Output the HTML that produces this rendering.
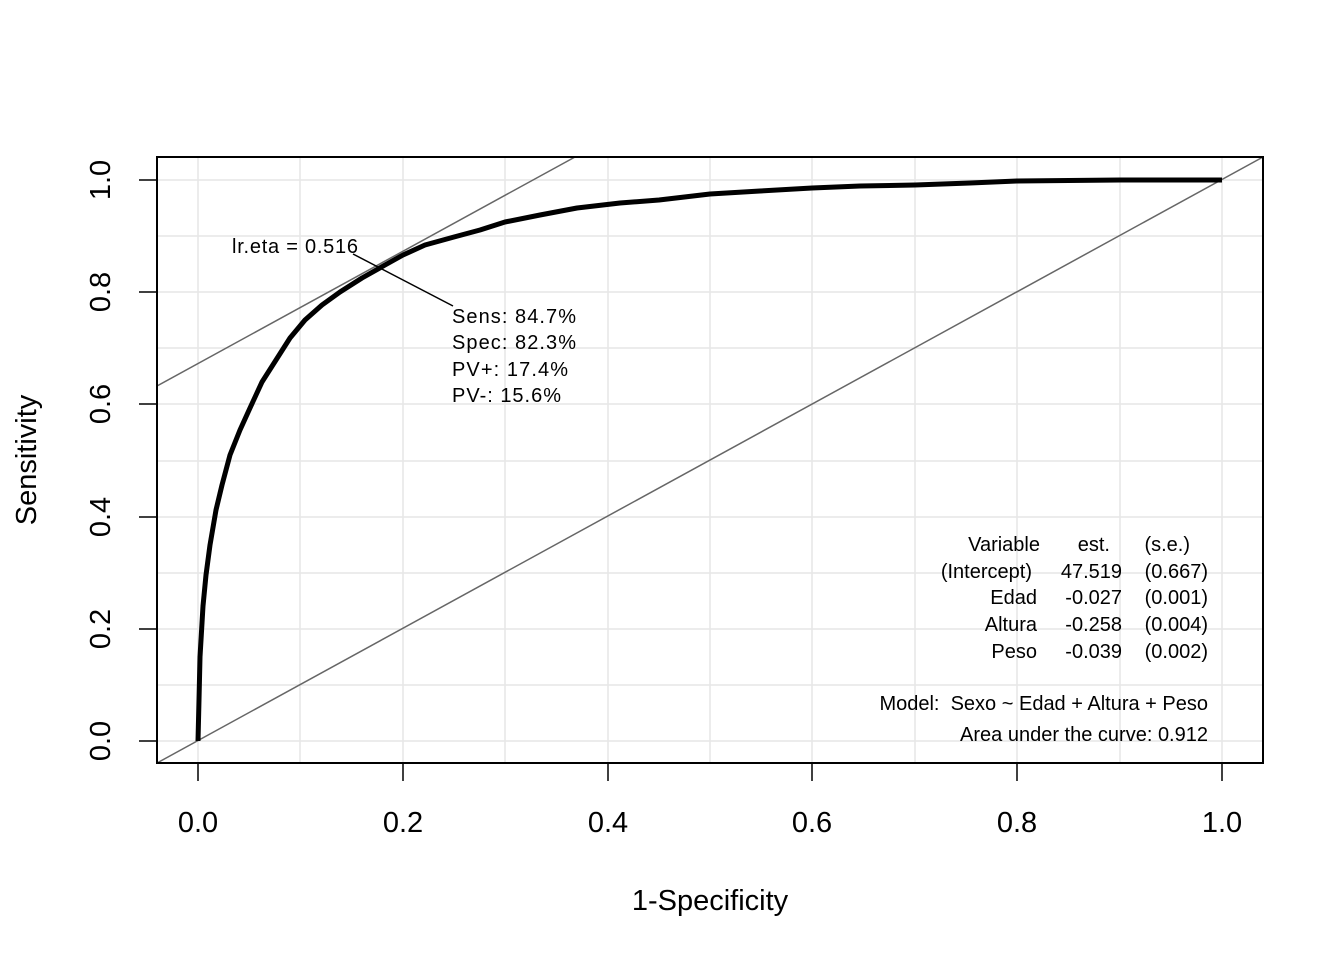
<!DOCTYPE html>
<html><head><meta charset="utf-8"><style>body{margin:0;background:#fff}svg{display:block}</style></head><body>
<svg width="1344" height="960" xmlns="http://www.w3.org/2000/svg" font-family="Liberation Sans, sans-serif">
<g stroke="#e6e6e6" stroke-width="1.5">
<line x1="198" y1="157" x2="198" y2="763"/><line x1="300" y1="157" x2="300" y2="763"/><line x1="403" y1="157" x2="403" y2="763"/><line x1="505" y1="157" x2="505" y2="763"/><line x1="608" y1="157" x2="608" y2="763"/><line x1="710" y1="157" x2="710" y2="763"/><line x1="812" y1="157" x2="812" y2="763"/><line x1="915" y1="157" x2="915" y2="763"/><line x1="1017" y1="157" x2="1017" y2="763"/><line x1="1120" y1="157" x2="1120" y2="763"/><line x1="1222" y1="157" x2="1222" y2="763"/>
<line x1="157" y1="741" x2="1263" y2="741"/><line x1="157" y1="685" x2="1263" y2="685"/><line x1="157" y1="629" x2="1263" y2="629"/><line x1="157" y1="573" x2="1263" y2="573"/><line x1="157" y1="517" x2="1263" y2="517"/><line x1="157" y1="461" x2="1263" y2="461"/><line x1="157" y1="404" x2="1263" y2="404"/><line x1="157" y1="348" x2="1263" y2="348"/><line x1="157" y1="292" x2="1263" y2="292"/><line x1="157" y1="236" x2="1263" y2="236"/><line x1="157" y1="180" x2="1263" y2="180"/>
</g>
<g stroke="#666" stroke-width="1.5">
<line x1="157" y1="763" x2="1263" y2="157"/>
<line x1="157" y1="386" x2="575" y2="157"/>
</g>
<polyline fill="none" stroke="#000" stroke-width="5" stroke-linejoin="round" points="198,741 199,700 200,657 203,606 206,575 210,545 216,510 222,485 230,455 240,430 250,408 262,382 276,360 290,338 305,320 322,305 340,292 362,278 385,265 403,255 425,245 454,237 480,230 505,222 540,215 577,208 620,203 659,200 710,194 760,191 812,188 860,186 915,185 970,183 1017,181 1120,180 1222,180"/>
<line x1="353" y1="254" x2="453" y2="306" stroke="#000" stroke-width="1.5"/>
<rect x="157" y="157" width="1106" height="606" fill="none" stroke="#000" stroke-width="2"/>
<g stroke="#000" stroke-width="1.5">
<line x1="198" y1="763" x2="198" y2="781"/><line x1="403" y1="763" x2="403" y2="781"/><line x1="608" y1="763" x2="608" y2="781"/><line x1="812" y1="763" x2="812" y2="781"/><line x1="1017" y1="763" x2="1017" y2="781"/><line x1="1222" y1="763" x2="1222" y2="781"/>
<line x1="139" y1="741" x2="157" y2="741"/><line x1="139" y1="629" x2="157" y2="629"/><line x1="139" y1="517" x2="157" y2="517"/><line x1="139" y1="404" x2="157" y2="404"/><line x1="139" y1="292" x2="157" y2="292"/><line x1="139" y1="180" x2="157" y2="180"/>
</g>
<g font-size="29" text-anchor="middle">
<text x="198" y="832">0.0</text><text x="403" y="832">0.2</text><text x="608" y="832">0.4</text><text x="812" y="832">0.6</text><text x="1017" y="832">0.8</text><text x="1222" y="832">1.0</text>
<text x="710" y="910">1-Specificity</text>
<text transform="translate(110,741) rotate(-90)">0.0</text><text transform="translate(110,629) rotate(-90)">0.2</text><text transform="translate(110,517) rotate(-90)">0.4</text><text transform="translate(110,404) rotate(-90)">0.6</text><text transform="translate(110,292) rotate(-90)">0.8</text><text transform="translate(110,180) rotate(-90)">1.0</text>
<text transform="translate(36,460) rotate(-90)">Sensitivity</text>
</g>
<g font-size="20">
<text x="232" y="253" textLength="126">lr.eta = 0.516</text>
<text x="452" y="323" textLength="124">Sens: 84.7%</text><text x="452" y="349" textLength="124">Spec: 82.3%</text><text x="452" y="376" textLength="116">PV+: 17.4%</text><text x="452" y="402" textLength="109">PV-: 15.6%</text>
<g text-anchor="end">
<text x="1040" y="551">Variable</text><text x="1110" y="551">est.</text><text x="1190" y="551">(s.e.)</text>
<text x="1032" y="578">(Intercept)</text><text x="1122" y="578">47.519</text><text x="1208" y="578">(0.667)</text>
<text x="1037" y="604">Edad</text><text x="1122" y="604">-0.027</text><text x="1208" y="604">(0.001)</text>
<text x="1037" y="631">Altura</text><text x="1122" y="631">-0.258</text><text x="1208" y="631">(0.004)</text>
<text x="1037" y="658">Peso</text><text x="1122" y="658">-0.039</text><text x="1208" y="658">(0.002)</text>
<text x="1208" y="710">Model:&#160;&#160;Sexo ~ Edad + Altura + Peso</text>
<text x="1208" y="741">Area under the curve: 0.912</text>
</g></g>
</svg>
</body></html>
